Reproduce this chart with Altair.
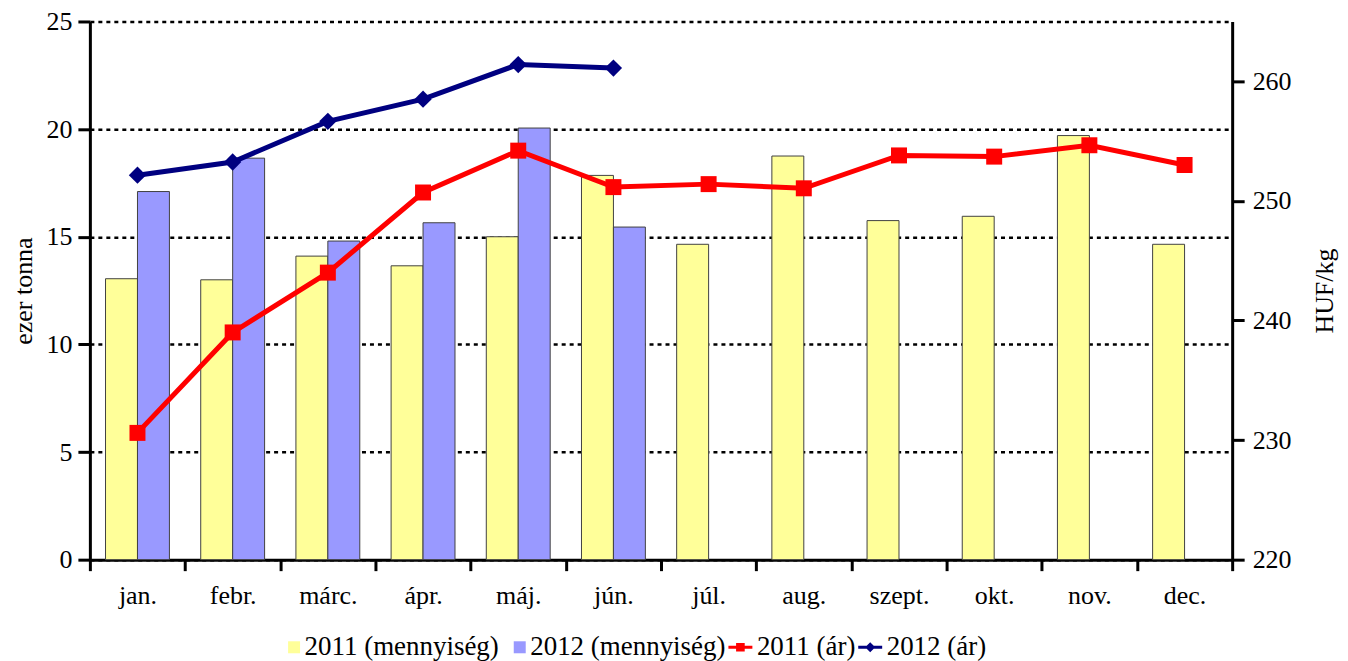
import altair as alt
import pandas as pd

months = ["jan.", "febr.", "márc.", "ápr.", "máj.", "jún.", "júl.", "aug.",
          "szept.", "okt.", "nov.", "dec."]
qty_2011 = [13.05, 13.0, 14.1, 13.65, 15.0, 17.85, 14.65, 18.75, 15.75, 15.95, 19.7, 14.65]
qty_2012 = [17.1, 18.65, 14.8, 15.65, 20.05, 15.45]
price_2011 = [230.6, 239.0, 244.0, 250.7, 254.2, 251.15, 251.4, 251.05, 253.8, 253.7, 254.65, 253.0]
price_2012 = [252.15, 253.25, 256.65, 258.5, 261.4, 261.1]

series_names = ["2011 (mennyiség)", "2012 (mennyiség)", "2011 (ár)", "2012 (ár)"]
colors = ["#FFFF99", "#9999FF", "#FF0000", "#000080"]
left_ticks = [0, 5, 10, 15, 20, 25]
right_ticks = [220, 230, 240, 250, 260]

FONT = "Liberation Serif"
FS = 26

bars_df = pd.DataFrame(
    [{"month": m, "series": series_names[0], "value": v} for m, v in zip(months, qty_2011)]
    + [{"month": m, "series": series_names[1], "value": v} for m, v in zip(months, qty_2012)]
)
lines_df = pd.DataFrame(
    [{"month": m, "series": series_names[2], "value": v} for m, v in zip(months, price_2011)]
    + [{"month": m, "series": series_names[3], "value": v} for m, v in zip(months, price_2012)]
)

# legend symbol paths (unit box of the legend symbol)
sq_path = "M0,-0.5H1V0.5H0Z"
red_path = "M-1,-0.13H1V0.13H-1Z M-0.36,-0.36H0.36V0.36H-0.36Z"
navy_path = "M-1,-0.12H1V0.12H-1Z M0,-0.42L0.42,0L0,0.42L-0.42,0Z"
legend_paths = [sq_path, sq_path, red_path, navy_path]

color_scale = alt.Scale(domain=series_names, range=colors)

leg_props = dict(title=None, orient="none", legendX=185, legendY=613, direction="horizontal",
                 labelFont=FONT, labelFontSize=27, labelColor="black", labelLimit=400,
                 symbolSize=576, symbolStrokeWidth=0, labelOffset=3, columnPadding=1,
                 padding=0)


def color_enc():
    return alt.Color("series:N", scale=color_scale, legend=alt.Legend(**leg_props))


x_enc = alt.X(
    "month:N", sort=months,
    scale=alt.Scale(paddingInner=0, paddingOuter=0),
    axis=alt.Axis(title=None, labelAngle=0, tickBand="extent", tickSize=11, tickWidth=3,
                  tickColor="black", domainColor="black", domainWidth=3,
                  labelFont=FONT, labelFontSize=FS, labelColor="black",
                  labelPadding=12, grid=False),
)

y_left = alt.Y(
    "value:Q",
    scale=alt.Scale(domain=[0, 25], nice=False),
    axis=alt.Axis(title="ezer tonna", values=left_ticks, grid=True, gridDash=[4, 4],
                  gridColor="black", gridWidth=2.5, gridOpacity=1,
                  tickSize=12, tickWidth=3, tickColor="black",
                  domainColor="black", domainWidth=3,
                  labelFont=FONT, labelFontSize=FS, labelColor="black", labelPadding=6,
                  titleFont=FONT, titleFontSize=FS, titleFontWeight="normal",
                  titleColor="black", titlePadding=9),
)

y_right = alt.Y(
    "value:Q",
    scale=alt.Scale(domain=[220, 265], nice=False, zero=False),
    axis=alt.Axis(title="HUF/kg", orient="right", values=right_ticks, grid=False,
                  tickSize=12, tickWidth=3, tickColor="black",
                  domainColor="black", domainWidth=3,
                  labelFont=FONT, labelFontSize=FS, labelColor="black", labelPadding=8,
                  titleFont=FONT, titleFontSize=FS, titleFontWeight="normal",
                  titleColor="black", titlePadding=46, titleAngle=270),
)

bars = alt.Chart(bars_df).mark_bar(stroke="#404040", strokeWidth=1).encode(
    x=x_enc,
    xOffset=alt.XOffset("series:N", sort=series_names[:2],
                        scale=alt.Scale(domain=series_names[:2], paddingInner=0, paddingOuter=0.49)),
    y=y_left,
    color=color_enc(),
)

lines = alt.Chart(lines_df).mark_line(strokeWidth=5).encode(
    x=x_enc, y=y_right, color=color_enc(),
)

pts_red = alt.Chart(lines_df).transform_filter(
    alt.datum.series == series_names[2]
).mark_point(shape="square", filled=True, size=256, opacity=1).encode(
    x=x_enc, y=y_right, color=color_enc(),
)

pts_navy = alt.Chart(lines_df).transform_filter(
    alt.datum.series == series_names[3]
).mark_point(shape="diamond", filled=True, size=300, opacity=1).encode(
    x=x_enc, y=y_right, color=color_enc(),
)

legend_layer = alt.Chart(lines_df).transform_filter("false").mark_point(
    filled=True, opacity=1
).encode(
    x=x_enc, y=y_right,
    color=color_enc(),
    shape=alt.Shape("series:N", scale=alt.Scale(domain=series_names, range=legend_paths),
                    legend=alt.Legend(**leg_props)),
)

right_layer = alt.layer(lines, pts_red, pts_navy, legend_layer)

chart = alt.layer(bars, right_layer).resolve_scale(y="independent").properties(
    width=1144, height=539,
    padding={"left": 3, "top": 0, "right": 3, "bottom": 0},
).configure_view(stroke=None)

chart.save("out.html", embed_options={"renderer": "svg", "actions": False})
